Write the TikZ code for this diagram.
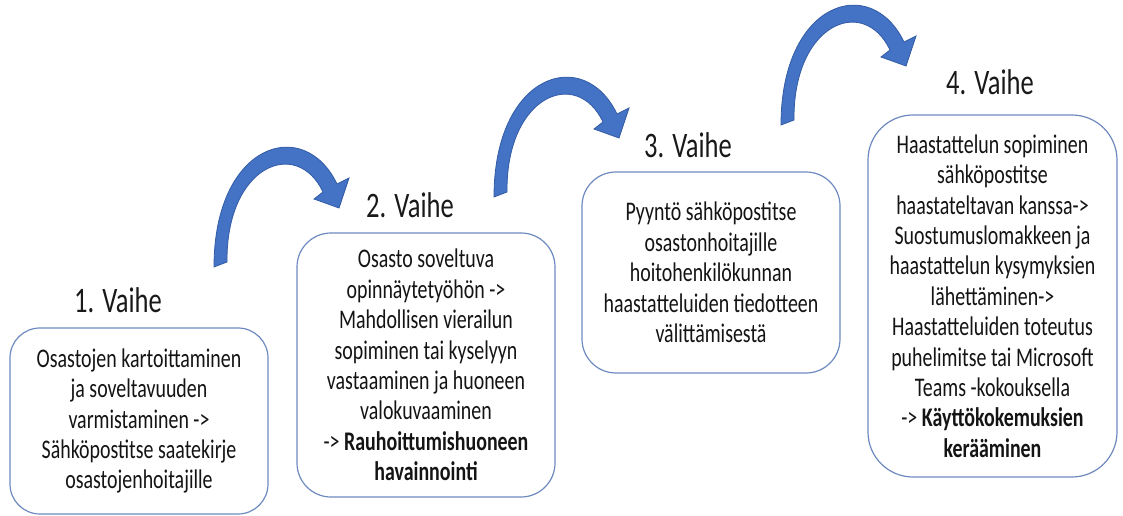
\documentclass[tikz,border=0pt]{standalone}
\usepackage{fontspec}
\setmainfont{Carlito}[FakeStretch=0.74]
\definecolor{arrowblue}{RGB}{68,114,196}
\definecolor{arrowedge}{RGB}{52,92,165}
\definecolor{boxedge}{RGB}{110,138,192}
\tikzset{
  stagebox/.style={draw=boxedge, line width=1.2bp, fill=white, align=center,
    inner sep=0pt, text=black!92, font=\fontsize{27}{30.5}\selectfont},
  stagetitle/.style={font=\fontsize{36}{36}\selectfont, text=black!90, inner sep=0pt},
  bigarrow/.pic={
    \filldraw[fill=arrowblue, draw=arrowedge, line width=0.8bp]
      (-6,2) .. controls (-6,-122) and (84,-150) .. (117,-81)
      -- (129,-87) -- (119,-57) -- (94,-66) -- (103,-73)
      .. controls (77,-128) and (6,-100) .. (7,-3) -- cycle;
  }
}
\begin{document}
\begin{tikzpicture}[x=1bp, y=-1bp]
\useasboundingbox (0,0) rectangle (1123,516);

% boxes
\node[stagebox, rounded corners=30bp, minimum width=258bp, minimum height=186bp] (b1) at (139,421)
  {Osastojen kartoittaminen\\ja soveltavuuden\\varmistaminen ->\\Sähköpostitse saatekirje\\osastojenhoitajille};
\node[stagebox, rounded corners=34bp, minimum width=258bp, minimum height=264bp] (b2) at (426,365)
  {Osasto soveltuva\\opinnäytetyöhön ->\\Mahdollisen vierailun\\sopiminen tai kyselyyn\\vastaaminen ja huoneen\\valokuvaaminen\\-> \textbf{Rauhoittumishuoneen}\\\textbf{havainnointi}};
\node[stagebox, rounded corners=34bp, minimum width=258bp, minimum height=201bp] (b3) at (711,272.5)
  {Pyyntö sähköpostitse\\osastonhoitajille\\hoitohenkilökunnan\\haastatteluiden tiedotteen\\välittämisestä};
\node[stagebox, rounded corners=45bp, minimum width=249bp, minimum height=362bp] (b4) at (992.5,296)
  {Haastattelun sopiminen\\sähköpostitse\\haastateltavan kanssa->\\Suostumuslomakkeen ja\\haastattelun kysymyksien\\lähettäminen->\\Haastatteluiden toteutus\\puhelimitse tai Microsoft\\Teams -kokouksella\\-> \textbf{Käyttökokemuksien}\\\textbf{kerääminen}};

% titles
\node[stagetitle] (t1) at (118,300) {1. Vaihe};
\node[stagetitle] (t2) at (410,205) {2. Vaihe};
\node[stagetitle] (t3) at (688,145) {3. Vaihe};
\node[stagetitle] (t4) at (990,82) {4. Vaihe};

% curved arrows
\pic at (220,265) {bigarrow};
\pic at (500,195) {bigarrow};
\pic at (787,123) {bigarrow};
\end{tikzpicture}
\end{document}
